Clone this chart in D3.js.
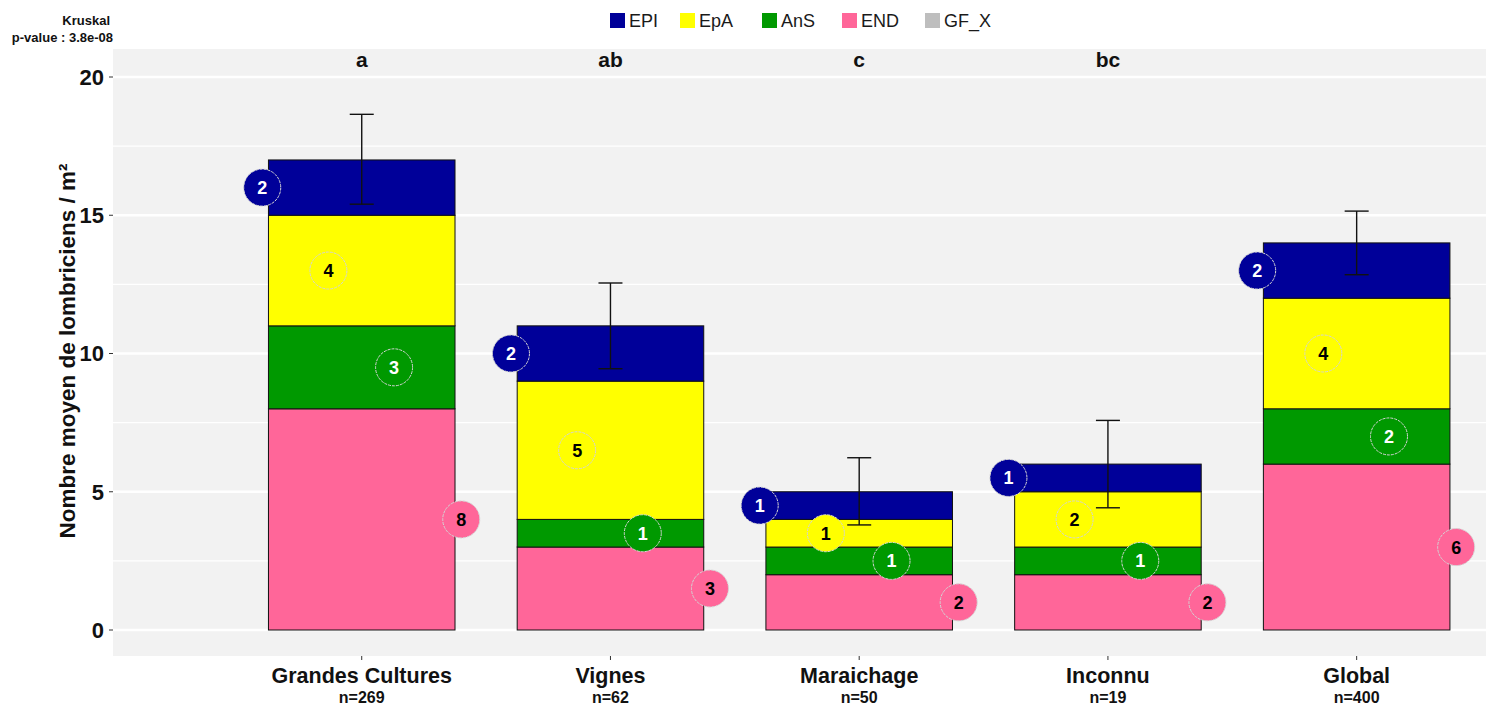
<!DOCTYPE html>
<html>
<head>
<meta charset="utf-8">
<script src="https://cdn.jsdelivr.net/npm/d3@7"></script>
<style>
  body { margin: 0; background: #fff; }
  svg { display: block; font-family: "Liberation Sans", Arial, sans-serif; }
</style>
</head>
<body>
<div id="chart"></div>
<script>
// donnees
var categories = ["Grandes Cultures", "Vignes", "Maraichage", "Inconnu", "Global"];
var effectifs = ["n=269", "n=62", "n=50", "n=19", "n=400"];
var groupes = ["END", "AnS", "EpA", "EPI"];          // ordre d'empilement (bas -> haut)
var legendeGroupes = ["EPI", "EpA", "AnS", "END", "GF_X"];
var END = [8, 3, 2, 2, 6];
var AnS = [3, 1, 1, 1, 2];
var EpA = [4, 5, 1, 2, 4];
var EPI = [2, 2, 1, 1, 2];
var errBas = [15.4, 9.45, 3.8, 4.42, 12.85];
var errHaut = [18.65, 12.55, 6.23, 7.58, 15.15];
var lettres = ["a", "ab", "c", "bc", ""];
var yTicks = [0, 5, 10, 15, 20];
var yMinor = [2.5, 7.5, 12.5, 17.5];

var couleurs = {EPI: "#000099", EpA: "#FFFF00", AnS: "#009900", END: "#FF6699", GF_X: "#BEBEBE"};
var couleurTexte = {EPI: "#fff", EpA: "#000", AnS: "#fff", END: "#000"};
var decalage = {EPI: -0.4, EpA: -0.134, AnS: 0.13, END: 0.4};

var W = 1488, H = 706;
var panel = {left: 113, right: 1486, top: 49, bottom: 656};

var svg = d3.select("#chart").append("svg").attr("width", W).attr("height", H);

var x = d3.scaleLinear().domain([-1, 4.52]).range([panel.left, panel.right]);
var y = d3.scaleLinear().domain([0, 20]).range([630, 77]);
var unite = x(1) - x(0);
var largeur = 0.75 * unite;

// fond du panneau
svg.append("rect")
    .attr("x", panel.left).attr("y", panel.top)
    .attr("width", panel.right - panel.left).attr("height", panel.bottom - panel.top)
    .attr("fill", "#F2F2F2");

// grilles
svg.append("g").selectAll("line").data(yMinor).enter().append("line")
    .attr("x1", panel.left).attr("x2", panel.right)
    .attr("y1", function(d) { return y(d); }).attr("y2", function(d) { return y(d); })
    .attr("stroke", "#fff").attr("stroke-width", 1.2);
svg.append("g").selectAll("line").data(yTicks).enter().append("line")
    .attr("x1", panel.left).attr("x2", panel.right)
    .attr("y1", function(d) { return y(d); }).attr("y2", function(d) { return y(d); })
    .attr("stroke", "#fff").attr("stroke-width", 2.6);

// empilement
var table = categories.map(function(c, i) {
    return {cat: c, i: i, END: END[i], AnS: AnS[i], EpA: EpA[i], EPI: EPI[i]};
});
var pile = d3.stack().keys(groupes)(table);

var gBarres = svg.append("g");
pile.forEach(function(serie) {
    gBarres.selectAll(null).data(serie).enter().append("rect")
        .attr("x", function(d) { return x(d.data.i) - largeur / 2; })
        .attr("y", function(d) { return y(d[1]); })
        .attr("width", largeur)
        .attr("height", function(d) { return y(d[0]) - y(d[1]); })
        .attr("fill", couleurs[serie.key])
        .attr("stroke", "#111").attr("stroke-width", 1);
});

// barres d'erreur
var gErr = svg.append("g").attr("stroke", "#111").attr("stroke-width", 1.4);
categories.forEach(function(c, i) {
    var cx = x(i);
    gErr.append("line").attr("x1", cx).attr("x2", cx).attr("y1", y(errBas[i])).attr("y2", y(errHaut[i]));
    gErr.append("line").attr("x1", cx - 12).attr("x2", cx + 12).attr("y1", y(errBas[i])).attr("y2", y(errBas[i]));
    gErr.append("line").attr("x1", cx - 12).attr("x2", cx + 12).attr("y1", y(errHaut[i])).attr("y2", y(errHaut[i]));
});

// etiquettes rondes
var gLab = svg.append("g");
pile.forEach(function(serie) {
    var k = serie.key;
    var g = gLab.selectAll(null).data(serie).enter().append("g")
        .attr("transform", function(d) {
            return "translate(" + x(d.data.i + decalage[k]) + "," + y((d[0] + d[1]) / 2) + ")";
        });
    g.append("circle").attr("r", 18.5)
        .attr("fill", couleurs[k])
        .attr("stroke", "#d4d4d4").attr("stroke-width", 1)
        .attr("stroke-dasharray", "3,1");
    g.append("text")
        .attr("text-anchor", "middle").attr("dy", "0.36em")
        .attr("font-size", 18).attr("font-weight", "bold")
        .attr("fill", couleurTexte[k])
        .text(function(d) { return d.data[k]; });
});

// lettres de significativite
svg.append("g").selectAll("text").data(lettres).enter().append("text")
    .attr("x", function(d, i) { return x(i); }).attr("y", 67)
    .attr("text-anchor", "middle").attr("font-size", 21).attr("font-weight", "bold")
    .attr("fill", "#111")
    .text(function(d) { return d; });

// axe y
var gy = svg.append("g");
yTicks.forEach(function(t) {
    gy.append("line").attr("x1", panel.left - 4).attr("x2", panel.left)
        .attr("y1", y(t)).attr("y2", y(t)).attr("stroke", "#333").attr("stroke-width", 1);
    gy.append("text").attr("x", panel.left - 9).attr("y", y(t)).attr("dy", "0.36em")
        .attr("text-anchor", "end").attr("font-size", 22).attr("font-weight", "bold")
        .attr("fill", "#111").text(t);
});
svg.append("text")
    .attr("transform", "translate(75,351) rotate(-90)")
    .attr("text-anchor", "middle").attr("font-size", 22.5).attr("font-weight", "bold")
    .attr("fill", "#111")
    .text("Nombre moyen de lombriciens / m²");

// axe x
var gx = svg.append("g");
categories.forEach(function(c, i) {
    gx.append("line").attr("x1", x(i)).attr("x2", x(i))
        .attr("y1", panel.bottom).attr("y2", panel.bottom + 4).attr("stroke", "#333");
    gx.append("text").attr("x", x(i)).attr("y", 683)
        .attr("text-anchor", "middle").attr("font-size", 21.5).attr("font-weight", "bold")
        .attr("fill", "#111").text(c);
    gx.append("text").attr("x", x(i)).attr("y", 703)
        .attr("text-anchor", "middle").attr("font-size", 16).attr("font-weight", "bold")
        .attr("fill", "#111").text(effectifs[i]);
});

// legende
var legX = [610, 680, 762, 842, 925];
var gLeg = svg.append("g");
legendeGroupes.forEach(function(k, i) {
    gLeg.append("rect").attr("x", legX[i]).attr("y", 13).attr("width", 15).attr("height", 15)
        .attr("fill", couleurs[k]);
    gLeg.append("text").attr("x", legX[i] + 19).attr("y", 27)
        .attr("font-size", 18).attr("fill", "#1a1a1a").text(k);
});

// texte Kruskal
svg.append("text").attr("x", 110).attr("y", 25).attr("text-anchor", "end")
    .attr("font-size", 13).attr("font-weight", "bold").attr("fill", "#111").text("Kruskal");
svg.append("text").attr("x", 113).attr("y", 42).attr("text-anchor", "end")
    .attr("font-size", 13).attr("font-weight", "bold").attr("fill", "#111").text("p-value : 3.8e-08");
</script>
</body>
</html>
